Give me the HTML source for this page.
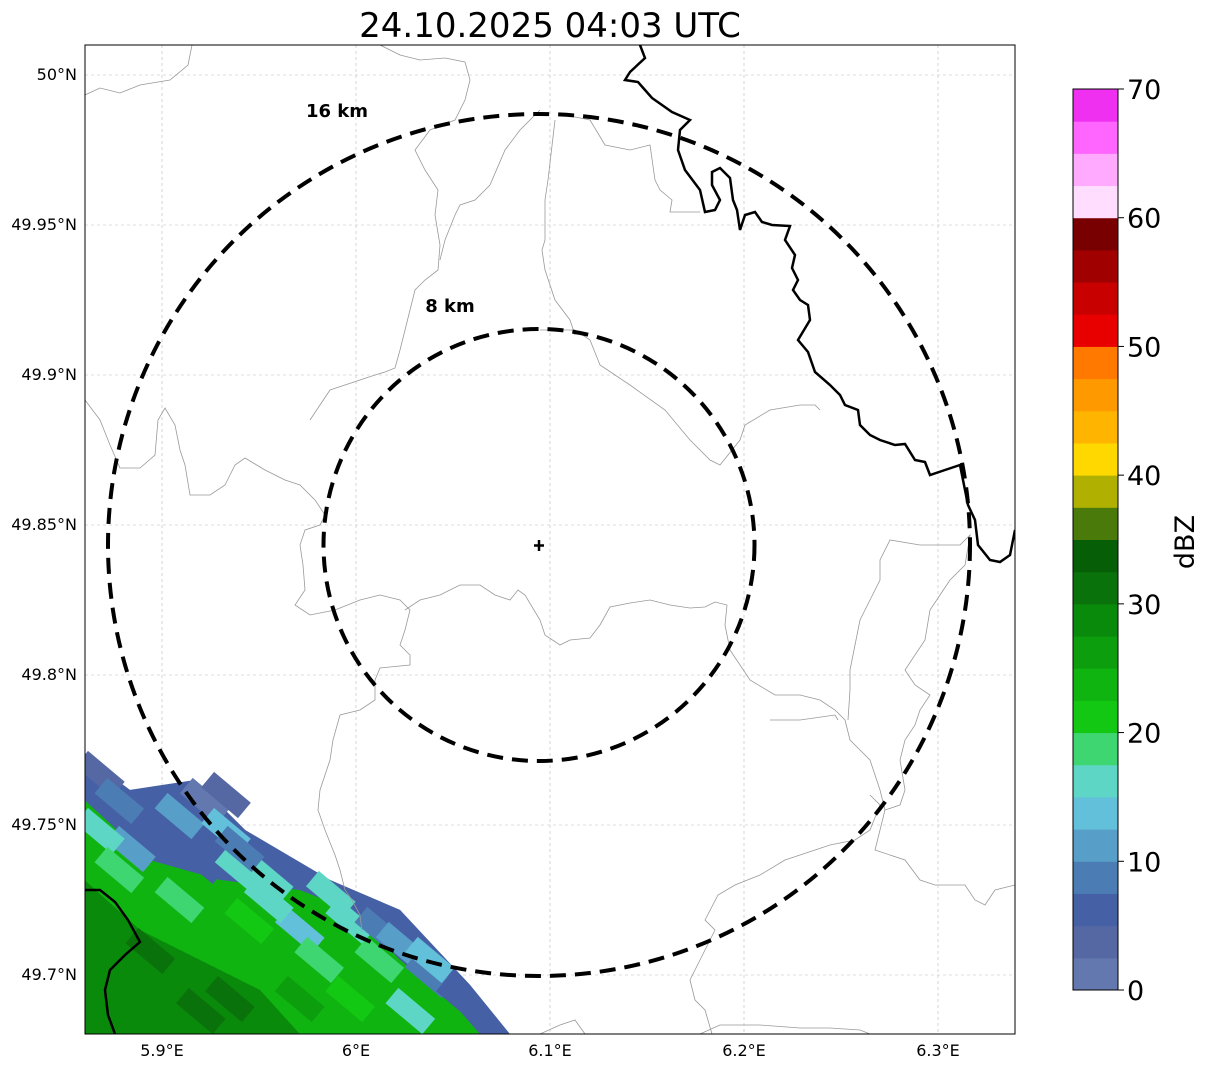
<!DOCTYPE html>
<html><head><meta charset="utf-8">
<style>
html,body{margin:0;padding:0;background:#fff;width:1207px;height:1069px;overflow:hidden;font-family:"Liberation Sans","DejaVu Sans",sans-serif;}
svg{display:block}
</style></head>
<body>
<svg id="chart" width="1207" height="1069" viewBox="0 0 1207 1069" xmlns="http://www.w3.org/2000/svg">
<text x="550" y="37" font-size="34" text-anchor="middle" font-family="DejaVu Sans, Liberation Sans, sans-serif">24.10.2025 04:03 UTC</text>
<defs><clipPath id="mapclip"><rect x="85" y="45" width="930" height="989"/></clipPath></defs>
<g id="grid"></g>
<g id="precip" clip-path="url(#mapclip)"></g>
<g id="borders" clip-path="url(#mapclip)" fill="none">
<path d="M85,95 L100,88 L120,93 L140,85 L170,80 L188,65 L192,45" stroke="#999" stroke-width="0.8"/>
<path d="M380,45 L400,55 L420,60 L445,58 L465,62 L470,80 L465,100 L455,120 L430,130 L415,150 L425,170 L438,190 L435,215 L440,245 L438,270 L425,280 L415,290 L405,330 L400,350 L395,368 L385,372 L375,375 L330,390 L320,405 L310,420" stroke="#999" stroke-width="0.8"/>
<path d="M540,110 L520,130 L505,150 L490,185 L475,200 L460,205 L455,215 L445,240 L440,260" stroke="#999" stroke-width="0.8"/>
<path d="M555,120 L548,180 L545,200 L545,240 L542,250 L545,270 L555,300 L570,320 L575,335" stroke="#999" stroke-width="0.8"/>
<path d="M565,115 L590,120 L605,145 L630,150 L650,145 L655,180 L660,190 L672,200 L670,212 L700,212" stroke="#999" stroke-width="0.8"/>
<path d="M540,330 L575,330 L590,340 L600,365 L615,375 L630,385 L665,410 L690,440 L710,460 L720,465 L740,440 L745,425 L770,410 L800,405 L815,405 L820,410" stroke="#999" stroke-width="0.8"/>
<path d="M85,400 L100,420 L110,445 L120,468 L140,468 L155,455 L158,420 L165,408 L175,425 L180,450 L185,465 L190,495 L210,495 L225,485 L235,465 L245,458 L265,470 L285,480 L300,485 L315,500 L325,515 L320,525 L305,530 L300,545 L303,565 L305,590 L295,605 L310,615 L335,610 L360,600 L380,595 L400,600 L410,610 L405,630 L400,645 L410,655 L410,665 L380,668 L375,680 L375,700 L360,710 L340,715 L333,740 L330,760 L320,790 L318,810 L325,830 L335,855 L340,870 L345,890 L352,900 L360,915 L362,932" stroke="#999" stroke-width="0.8"/>
<path d="M405,610 L420,600 L440,595 L460,585 L480,585 L495,595 L510,600 L518,590 L525,595 L540,620 L545,635 L560,645 L570,640 L590,638 L600,625 L610,607 L630,603 L650,600 L670,605 L690,608 L705,607 L715,602 L727,605 L725,625 L730,650" stroke="#999" stroke-width="0.8"/>
<path d="M730,650 L750,680 L775,695 L800,695 L820,700 L835,710 L845,720 L850,740 L855,745 L870,760 L880,790 L885,810 L900,805 L905,790 L900,760 L905,740 L915,725 L920,710 L930,695 L915,685 L905,670 L925,640 L930,610 L940,595 L950,580 L965,565 L970,535 L960,545 L920,545 L890,540 L880,560 L880,580 L870,600 L860,620 L855,645 L850,670 L850,690 L848,720" stroke="#999" stroke-width="0.8"/>
<path d="M838,720 L835,715 L800,720 L770,720" stroke="#999" stroke-width="0.8"/>
<path d="M885,810 L880,830 L875,850 L905,860 L920,880 L935,885 L950,885 L965,885 L975,900 L985,905 L995,890 L1015,885" stroke="#999" stroke-width="0.8"/>
<path d="M870,795 L880,805 L870,830 L855,840 L830,845 L800,855 L785,860 L760,875 L735,885 L718,895 L705,920 L715,930 L700,960 L690,980 L695,1000 L705,1010 L712,1034" stroke="#999" stroke-width="0.8"/>
<path d="M700,1034 L720,1025 L760,1025 L800,1028 L830,1028 L860,1030 L870,1034" stroke="#999" stroke-width="0.8"/>
<path d="M540,1034 L560,1025 L575,1020 L585,1034" stroke="#999" stroke-width="0.8"/>
<path d="M640,45 L645,58 L630,72 L625,80 L638,82 L645,90 L652,98 L662,105 L672,112 L690,120 L680,130 L678,150 L685,170 L700,190 L705,212 L715,210 L720,200 L712,185 L712,172 L720,168 L730,178 L733,200 L737,210 L740,230 L745,215 L755,212 L762,222 L772,225 L790,226 L785,240 L795,255 L792,268 L798,280 L793,290 L800,300 L808,305 L810,320 L798,340 L808,352 L815,372 L830,385 L840,395 L845,405 L858,410 L860,425 L870,435 L880,440 L895,445 L905,444 L915,460 L925,462 L930,475 L945,470 L960,465 L965,490 L968,505 L975,520 L978,545 L990,560 L1000,562 L1010,555 L1015,530" stroke="#000" stroke-width="2.5"/>
<path d="M85,890 L100,890 L115,902 L128,920 L140,942 L125,955 L110,970 L105,990 L108,1015 L115,1034" stroke="#000" stroke-width="2.5"/>
</g>
<g id="rings" fill="none" stroke="#000" stroke-width="4" stroke-dasharray="16,9">
<ellipse cx="539" cy="545" rx="431" ry="431"/>
<ellipse cx="539" cy="545" rx="215.5" ry="216"/>
</g>
<text x="337" y="117" font-size="18" font-weight="bold" text-anchor="middle" font-family="DejaVu Sans, sans-serif">16 km</text>
<text x="450" y="312" font-size="18" font-weight="bold" text-anchor="middle" font-family="DejaVu Sans, sans-serif">8 km</text>
<path d="M539,540 V551 M534,545.5 H544" stroke="#000" stroke-width="2.5"/>
<rect x="85" y="45" width="930" height="989" fill="none" stroke="#000" stroke-width="1"/>
<g id="axes" font-size="16" font-family="DejaVu Sans, Liberation Sans, sans-serif"></g>
<g id="cbar" font-family="DejaVu Sans, Liberation Sans, sans-serif"></g>
</svg>
<script>
const lonTicks=[5.9,6.0,6.1,6.2,6.3];
const lonLabels=["5.9°E","6°E","6.1°E","6.2°E","6.3°E"];
const latTicks=[50.0,49.95,49.9,49.85,49.8,49.75,49.7];
const latLabels=["50°N","49.95°N","49.9°N","49.85°N","49.8°N","49.75°N","49.7°N"];
const cbarTicks=[0,10,20,30,40,50,60,70];
const cbarColors=["#6378ae","#5568a4","#4660a6","#4b7cb4","#579fc8","#62c0da","#5ed6c6","#3ed670","#12c812","#10b410","#0c9e0c","#0a8a0a","#0a720a","#065e06","#4a7a0a","#b0b000","#ffd800","#ffb400","#ff9900","#ff7800","#e80000","#c80000","#a00000","#780000","#ffddff","#ffaaff","#ff66ff","#f030f0"];
const zoneLon=[[5.860,5.8835,5.917,5.943,5.9866,6.0227,6.0588,6.0794,5.860],[5.860,5.8938,5.9299,5.9711,5.9969,6.0227,6.0485,6.0639,5.860],[5.860,5.8887,5.9196,5.9505,5.9711,5.860]];
const zoneLat=[[49.773,49.7617,49.765,49.7483,49.7317,49.7217,49.6967,49.6803,49.6803],[49.7583,49.7383,49.7317,49.7283,49.7217,49.705,49.6917,49.6803,49.6803],[49.7317,49.715,49.705,49.695,49.6803,49.6803]];
const zoneVal=[6,23,28];
const cellLon=[5.868,5.878,5.909,5.922,5.933,5.920,5.940,5.955,5.987,5.997,6.012,6.023,6.038,6.054,5.971,5.981,5.945,5.909,5.884,5.868,5.894,5.935,5.997,6.028,5.971,5.920,5.884,5.955,6.012,5.940,5.933,5.878,6.038];
const cellLat=[49.767,49.758,49.753,49.758,49.748,49.738,49.735,49.732,49.727,49.718,49.715,49.710,49.700,49.692,49.715,49.705,49.718,49.725,49.742,49.748,49.708,49.692,49.692,49.688,49.692,49.688,49.692,49.725,49.705,49.742,49.760,49.735,49.705];
const cellVal=[3,8,11,2,13,6,16,17,16,15,8,12,9,5,14,19,21,19,12,17,31,31,22,17,27,32,29,15,19,9,4,19,14];

const NS="http://www.w3.org/2000/svg";
const X0=85,X1=1015,Y0=45,Y1=1034;
function xs(lon){return 162+(lon-5.9)*1940;}
function ys(lat){return 75+(50-lat)*3000;}
function colorOf(v){let i=Math.floor(v/2.5);i=Math.max(0,Math.min(cbarColors.length-1,i));return cbarColors[i];}
function mk(tag,parent,attrs){const e=document.createElementNS(NS,tag);for(const k in attrs)e.setAttribute(k,attrs[k]);parent.appendChild(e);return e;}

const grid=document.getElementById('grid');
lonTicks.forEach((t,i)=>{const x=xs(t);
 const l=mk('line',grid,{x1:x,x2:x,y1:Y0,y2:Y1,stroke:'#bbb','stroke-width':0.6,'stroke-dasharray':'3,3'});
 
 });
latTicks.forEach((t,i)=>{const y=ys(t);
 const l=mk('line',grid,{x1:X0,x2:X1,y1:y,y2:y,stroke:'#bbb','stroke-width':0.6,'stroke-dasharray':'3,3'});
 
 });

const precip=document.getElementById('precip');
zoneVal.forEach((v,z)=>{const pts=zoneLon[z].map((lo,k)=>xs(lo)+','+ys(zoneLat[z][k])).join(' ');
 const p=mk('polygon',precip,{points:pts,fill:colorOf(v)});
 
 });
cellVal.forEach((v,i)=>{const x=xs(cellLon[i]),y=ys(cellLat[i]);
 const r=mk('rect',precip,{x:x-24,y:y-10,width:48,height:20,fill:colorOf(v),transform:`rotate(40 ${x} ${y})`});
 
 });

const axes=document.getElementById('axes');
lonTicks.forEach((t,i)=>{const x=xs(t);
 const tx=mk('text',axes,{x:x,y:1056,'text-anchor':'middle'});tx.textContent=lonLabels[i];
 
 });
latTicks.forEach((t,i)=>{const y=ys(t);
 const tx=mk('text',axes,{x:77,y:y+5,'text-anchor':'end'});tx.textContent=latLabels[i];
 
 });

const cb=document.getElementById('cbar');
const CB_X=1073,CB_W=45,CB_T=89,CB_B=990;
function cy(v){return CB_B-(v/70)*(CB_B-CB_T);}
cbarColors.forEach((c,i)=>{const v0=i*2.5,v1=v0+2.5;
 const r=mk('rect',cb,{x:CB_X,y:cy(v1),width:CB_W,height:cy(v0)-cy(v1)+0.5,fill:c});
 
 });
const fr=mk('rect',cb,{x:CB_X,y:CB_T,width:CB_W,height:CB_B-CB_T,fill:'none',stroke:'#000','stroke-width':1});


cbarTicks.forEach(t=>{const y=cy(t);
 mk('line',cb,{x1:CB_X+CB_W,x2:CB_X+CB_W+6,y1:y,y2:y,stroke:'#000','stroke-width':1});
 const tx=mk('text',cb,{x:CB_X+CB_W+9,y:y+10,'font-size':27});tx.textContent=t;
 
 });
const lab=mk('text',cb,{x:1194,y:542,'font-size':27,'text-anchor':'middle',transform:'rotate(-90 1194 542)'});
lab.textContent='dBZ';


</script>
</body></html>
